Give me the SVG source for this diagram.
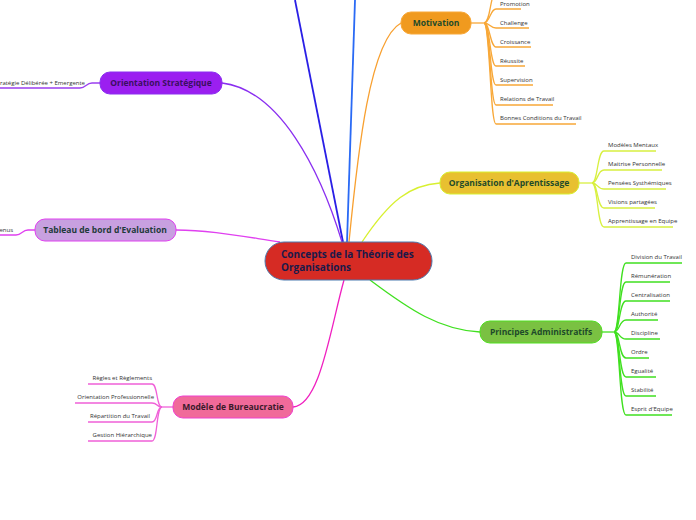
<svg xmlns="http://www.w3.org/2000/svg" width="696" height="520" viewBox="0 0 696 520">
<style>
.t{font-family:"Open Sans","Noto Sans",sans-serif;font-size:6px;fill:#333}
.h{font-family:"Open Sans","Noto Sans",sans-serif;font-size:8.5px;font-weight:bold;text-anchor:middle}
path{fill:none}
</style>
<rect width="696" height="520" fill="#fff"/>
<g id="connectors" stroke-width="1.3">
<path d="M343,242 L295,0" stroke="#2a1fe6" stroke-width="1.8"/>
<path d="M347,242 L355,0" stroke="#2a6af5" stroke-width="1.8"/>
<path d="M349,242 C358,150 370,40 401,23" stroke="#f8a030"/>
<path d="M342,242 C320,170 280,90 222,83" stroke="#8a2ff0"/>
<path d="M280,242 C240,236 210,230 176,230" stroke="#e040f0"/>
<path d="M362,242 C390,200 410,185 440,183" stroke="#d8f030"/>
<path d="M370,280 C410,310 440,330 480,332" stroke="#40e020"/>
<path d="M344,280 C330,330 320,405 293,407" stroke="#f020c0"/>
<g stroke="#f8a838">
<path d="M471,23 H484"/>
<path d="M484,23 C490,23 490,0 494,-6"/>
<path d="M484,23 C490,23 490,9 496,9 H521"/>
<path d="M484,23 C490,23 490,28 496,28 H529"/>
<path d="M484,23 C490,23 490,47 496,47 H531"/>
<path d="M484,23 C490,23 490,66 496,66 H525"/>
<path d="M484,23 C490,23 490,85 496,85 H533"/>
<path d="M484,23 C490,23 490,105 496,105 H553"/>
<path d="M484,23 C490,23 490,124 496,124 H576"/>
</g>
<g stroke="#d8f040">
<path d="M579,183 H592"/>
<path d="M592,183 C598,183 597,151 604,151 H656"/>
<path d="M592,183 C598,183 597,170 604,170 H662"/>
<path d="M592,183 C598,183 597,189 604,189 H666"/>
<path d="M592,183 C598,183 597,208 604,208 H655"/>
<path d="M592,183 C598,183 597,227 604,227 H673"/>
</g>
<g stroke="#40e020">
<path d="M602,332 H614"/>
<path d="M614,332 C620,332 619,263 626,263 H682"/>
<path d="M614,332 C620,332 619,282 626,282 H670"/>
<path d="M614,332 C620,332 619,301 626,301 H670"/>
<path d="M614,332 C620,332 619,320 626,320 H658"/>
<path d="M614,332 C620,332 619,339 626,339 H660"/>
<path d="M614,332 C620,332 619,358 626,358 H649"/>
<path d="M614,332 C620,332 619,377 626,377 H656"/>
<path d="M614,332 C620,332 619,396 626,396 H656"/>
<path d="M614,332 C620,332 619,415 626,415 H672"/>
</g>
<g stroke="#f060d8">
<path d="M173,407 H162"/>
<path d="M162,407 C156,407 158,384 152,384 H88"/>
<path d="M162,407 C156,407 158,403 152,403 H75"/>
<path d="M162,407 C156,407 158,422 152,422 H88"/>
<path d="M162,407 C156,407 158,441 152,441 H88"/>
</g>
<path d="M100,83 H92 C86,83 86,88 80,88 H0" stroke="#9b3ff0"/>
<path d="M35,230 H28 C22,230 22,235 16,235 H0" stroke="#e040f0"/>
</g>
<g id="center"><rect x="265" y="242" width="167" height="38" rx="19" fill="#d62b24" stroke="#4a7ab0"/>
<text x="281" y="258" class="h" style="text-anchor:start;font-size:10px;fill:#1a1a4a">Concepts de la Théorie des</text>
<text x="281" y="271" class="h" style="text-anchor:start;font-size:10px;fill:#1a1a4a">Organisations</text></g>
<g id="motivation"><rect x="401" y="12" width="70" height="22" rx="10" fill="#f09a1f" stroke="#f8a838"/>
<text x="436" y="26" class="h" fill="#1e4a2a">Motivation</text>
<text class="t" x="500" y="6">Promotion</text><text class="t" x="500" y="25">Challenge</text><text class="t" x="500" y="44">Croissance</text><text class="t" x="500" y="63">Réussite</text><text class="t" x="500" y="82">Supervision</text><text class="t" x="500" y="101">Relations de Travail</text><text class="t" x="500" y="120">Bonnes Conditions du Travail</text></g>
<g id="orientation"><rect x="100" y="72" width="122" height="22" rx="10" fill="#9b1ff0" stroke="#8a2ff0"/>
<text x="161" y="86" class="h" fill="#3a1060">Orientation Stratégique</text>
<text class="t" x="85" y="85" text-anchor="end">Stratégie Délibérée + Emergente</text></g>
<g id="tableau"><rect x="35" y="219" width="141" height="22" rx="10" fill="#c8a0e0" stroke="#e040f0"/>
<text x="105" y="233" class="h" fill="#1e3a3a">Tableau de bord d'Evaluation</text>
<text class="t" x="13" y="232" text-anchor="end">Revenus</text></g>
<g id="organisation"><rect x="440" y="172" width="139" height="22" rx="10" fill="#e8c030" stroke="#d8f030"/>
<text x="509" y="186" class="h" fill="#1e4a2a">Organisation d'Aprentissage</text>
<text class="t" x="608" y="147">Modèles Mentaux</text><text class="t" x="608" y="166">Maitrise Personnelle</text><text class="t" x="608" y="185">Pensées Systhémiques</text><text class="t" x="608" y="204">Visions partagées</text><text class="t" x="608" y="223">Apprentissage en Equipe</text></g>
<g id="principes"><rect x="480" y="321" width="122" height="22" rx="10" fill="#7ac142" stroke="#50e020"/>
<text x="541" y="335" class="h" fill="#1e4a2a">Principes Administratifs</text>
<text class="t" x="631" y="259">Division du Travail</text><text class="t" x="631" y="278">Rémunération</text><text class="t" x="631" y="297">Centralisation</text><text class="t" x="631" y="316">Authorité</text><text class="t" x="631" y="335">Discipline</text><text class="t" x="631" y="354">Ordre</text><text class="t" x="631" y="373">Egualité</text><text class="t" x="631" y="392">Stabilité</text><text class="t" x="631" y="411">Esprit d'Equipe</text></g>
<g id="modele"><rect x="173" y="396" width="120" height="22" rx="10" fill="#f06a9a" stroke="#f040d0"/>
<text x="233" y="410" class="h" fill="#3a1a2a">Modèle de Bureaucratie</text>
<g text-anchor="end"><text class="t" x="152" y="380">Règles et Règlements</text><text class="t" x="154" y="399">Orientation Professionnelle</text><text class="t" x="150" y="418">Répartition du Travail</text><text class="t" x="152" y="437">Gestion Hiérarchique</text></g></g>
</svg>
